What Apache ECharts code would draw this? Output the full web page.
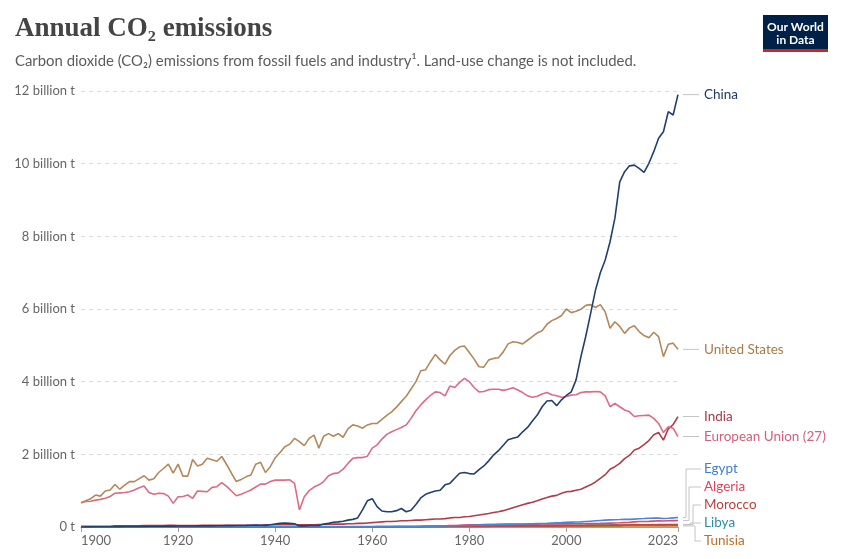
<!DOCTYPE html>
<html><head><meta charset="utf-8">
<script src="https://cdn.jsdelivr.net/npm/echarts@6/dist/echarts.min.js"></script>
<style>html,body{margin:0;padding:0;background:#fff}#c{width:845px;height:559px}</style>
</head><body><div id="c"></div>
<script>
const startYear = 1900;
const xTickYears = [1900, 1920, 1940, 1960, 1980, 2000, 2023];

// billion tonnes CO2, 1900..2023
const china = [
0.002,0.003,0.004,0.005,0.006,0.007,0.008,0.009,0.010,0.012,
0.013,0.015,0.016,0.018,0.020,0.021,0.022,0.024,0.023,0.025,
0.026,0.027,0.028,0.029,0.030,0.031,0.030,0.032,0.033,0.035,
0.037,0.038,0.040,0.042,0.045,0.050,0.055,0.050,0.045,0.060,
0.080,0.100,0.110,0.100,0.090,0.030,0.030,0.040,0.040,0.040,
0.080,0.100,0.130,0.140,0.160,0.190,0.210,0.250,0.470,0.720,
0.780,0.560,0.440,0.420,0.420,0.450,0.510,0.420,0.460,0.620,
0.800,0.900,0.950,0.990,1.010,1.160,1.200,1.340,1.480,1.500,
1.470,1.460,1.580,1.680,1.820,1.980,2.100,2.250,2.400,2.440,
2.480,2.620,2.740,2.920,3.080,3.310,3.470,3.480,3.340,3.500,
3.620,3.720,4.050,4.690,5.250,5.880,6.520,7.000,7.350,7.850,
8.500,9.500,9.780,9.940,9.960,9.870,9.760,10.010,10.330,10.700,
10.880,11.430,11.340,11.900];
const unitedStates = [
0.67,0.72,0.78,0.88,0.85,0.99,1.02,1.17,1.04,1.15,
1.25,1.25,1.33,1.41,1.29,1.33,1.50,1.61,1.73,1.48,
1.73,1.40,1.40,1.86,1.68,1.73,1.89,1.85,1.81,1.94,
1.72,1.48,1.25,1.31,1.38,1.43,1.73,1.78,1.50,1.66,
1.90,2.05,2.21,2.28,2.44,2.35,2.24,2.44,2.53,2.17,
2.50,2.57,2.50,2.57,2.47,2.70,2.81,2.78,2.72,2.81,
2.85,2.85,2.96,3.07,3.17,3.30,3.45,3.60,3.80,4.00,
4.30,4.33,4.55,4.75,4.60,4.48,4.72,4.86,4.96,4.98,
4.80,4.62,4.41,4.40,4.60,4.64,4.66,4.82,5.04,5.10,
5.08,5.04,5.14,5.24,5.34,5.40,5.58,5.68,5.74,5.82,
6.00,5.90,5.94,5.99,6.10,6.12,6.04,6.12,5.92,5.47,
5.65,5.52,5.33,5.48,5.54,5.38,5.27,5.21,5.36,5.24,
4.69,5.03,5.06,4.89];
const europeanUnion = [
0.67,0.70,0.71,0.74,0.76,0.79,0.84,0.93,0.94,0.95,
0.97,1.02,1.08,1.13,0.95,0.90,0.93,0.92,0.85,0.65,
0.83,0.84,0.88,0.79,0.99,0.98,0.97,1.09,1.11,1.22,
1.12,0.99,0.86,0.90,0.96,1.02,1.10,1.18,1.18,1.25,
1.29,1.29,1.29,1.30,1.20,0.47,0.83,1.00,1.10,1.16,
1.25,1.41,1.47,1.49,1.59,1.75,1.89,1.91,1.91,1.95,
2.17,2.26,2.42,2.55,2.62,2.68,2.74,2.81,2.99,3.20,
3.36,3.50,3.62,3.72,3.70,3.61,3.88,3.84,3.98,4.09,
4.00,3.84,3.72,3.73,3.78,3.79,3.79,3.76,3.79,3.83,
3.77,3.70,3.61,3.57,3.60,3.66,3.70,3.64,3.61,3.57,
3.59,3.63,3.64,3.70,3.72,3.72,3.73,3.72,3.61,3.31,
3.40,3.31,3.22,3.17,3.04,3.06,3.07,3.08,2.99,2.85,
2.60,2.76,2.72,2.49];
const india = [
0.02,0.02,0.02,0.02,0.02,0.02,0.02,0.03,0.03,0.03,
0.03,0.03,0.03,0.04,0.04,0.04,0.04,0.04,0.05,0.05,
0.04,0.04,0.04,0.04,0.04,0.05,0.05,0.05,0.05,0.05,
0.05,0.05,0.05,0.05,0.05,0.05,0.05,0.05,0.06,0.06,
0.06,0.06,0.06,0.06,0.06,0.06,0.06,0.06,0.06,0.07,
0.07,0.07,0.08,0.08,0.08,0.09,0.09,0.10,0.10,0.11,
0.12,0.13,0.14,0.15,0.15,0.16,0.17,0.17,0.18,0.19,
0.19,0.20,0.21,0.22,0.22,0.23,0.25,0.26,0.26,0.28,
0.29,0.31,0.33,0.35,0.37,0.40,0.42,0.45,0.49,0.53,
0.57,0.61,0.65,0.68,0.72,0.77,0.81,0.85,0.87,0.93,
0.97,0.98,1.01,1.04,1.10,1.16,1.24,1.34,1.44,1.59,
1.66,1.75,1.88,1.97,2.12,2.17,2.27,2.38,2.54,2.60,
2.39,2.70,2.82,3.04];
const egypt = [
0.001,0.001,0.001,0.001,0.001,0.001,0.001,0.002,0.002,0.002,
0.002,0.002,0.002,0.002,0.002,0.002,0.002,0.002,0.002,0.002,
0.002,0.002,0.003,0.003,0.003,0.003,0.003,0.003,0.003,0.003,
0.003,0.003,0.003,0.003,0.003,0.003,0.003,0.003,0.004,0.004,
0.004,0.004,0.004,0.005,0.005,0.005,0.006,0.006,0.007,0.007,
0.008,0.008,0.009,0.009,0.010,0.011,0.011,0.012,0.013,0.014,
0.015,0.016,0.017,0.018,0.019,0.021,0.022,0.021,0.020,0.021,
0.022,0.023,0.023,0.024,0.026,0.029,0.033,0.036,0.040,0.043,
0.046,0.050,0.055,0.060,0.065,0.070,0.073,0.075,0.078,0.080,
0.081,0.083,0.085,0.088,0.092,0.096,0.101,0.108,0.114,0.120,
0.130,0.133,0.136,0.140,0.150,0.160,0.170,0.180,0.190,0.195,
0.200,0.205,0.215,0.210,0.218,0.225,0.232,0.240,0.244,0.245,
0.232,0.240,0.250,0.260];
const algeria = [
0.000,0.000,0.000,0.000,0.000,0.000,0.000,0.000,0.000,0.000,
0.000,0.000,0.000,0.000,0.000,0.000,0.000,0.000,0.000,0.000,
0.001,0.001,0.001,0.001,0.001,0.001,0.001,0.001,0.001,0.001,
0.001,0.001,0.001,0.001,0.001,0.001,0.001,0.001,0.001,0.001,
0.001,0.001,0.001,0.001,0.001,0.001,0.002,0.002,0.002,0.002,
0.002,0.002,0.002,0.002,0.002,0.003,0.003,0.003,0.003,0.003,
0.004,0.005,0.006,0.007,0.008,0.009,0.010,0.011,0.013,0.015,
0.017,0.020,0.023,0.026,0.030,0.033,0.037,0.040,0.045,0.052,
0.058,0.060,0.062,0.064,0.066,0.068,0.070,0.072,0.073,0.074,
0.076,0.077,0.078,0.079,0.080,0.081,0.082,0.083,0.084,0.085,
0.086,0.086,0.088,0.090,0.092,0.095,0.098,0.100,0.104,0.108,
0.112,0.117,0.124,0.130,0.140,0.150,0.152,0.155,0.163,0.170,
0.165,0.172,0.176,0.180];
const morocco = [
0.000,0.000,0.000,0.000,0.000,0.000,0.000,0.000,0.000,0.000,
0.000,0.000,0.000,0.000,0.000,0.000,0.000,0.000,0.000,0.000,
0.000,0.000,0.000,0.000,0.000,0.000,0.000,0.001,0.001,0.001,
0.001,0.001,0.001,0.001,0.001,0.001,0.001,0.001,0.001,0.001,
0.001,0.001,0.001,0.001,0.001,0.001,0.002,0.002,0.002,0.002,
0.002,0.002,0.002,0.002,0.002,0.003,0.003,0.003,0.003,0.003,
0.003,0.003,0.003,0.004,0.004,0.004,0.005,0.005,0.006,0.006,
0.007,0.007,0.008,0.009,0.010,0.011,0.012,0.013,0.014,0.015,
0.016,0.017,0.017,0.017,0.018,0.019,0.020,0.021,0.022,0.022,
0.023,0.024,0.026,0.027,0.028,0.028,0.029,0.031,0.032,0.033,
0.034,0.036,0.038,0.039,0.042,0.044,0.046,0.048,0.050,0.050,
0.052,0.055,0.057,0.056,0.059,0.060,0.061,0.063,0.064,0.068,
0.065,0.069,0.068,0.070];
const libya = [
0.000,0.000,0.000,0.000,0.000,0.000,0.000,0.000,0.000,0.000,
0.000,0.000,0.000,0.000,0.000,0.000,0.000,0.000,0.000,0.000,
0.000,0.000,0.000,0.000,0.000,0.000,0.000,0.000,0.000,0.000,
0.000,0.000,0.000,0.000,0.000,0.000,0.000,0.000,0.000,0.000,
0.000,0.000,0.000,0.000,0.000,0.000,0.000,0.000,0.000,0.000,
0.000,0.000,0.000,0.000,0.000,0.000,0.001,0.001,0.001,0.001,
0.001,0.002,0.002,0.003,0.003,0.004,0.005,0.006,0.007,0.008,
0.010,0.010,0.012,0.014,0.015,0.017,0.019,0.021,0.023,0.025,
0.027,0.028,0.030,0.031,0.032,0.033,0.034,0.036,0.037,0.038,
0.039,0.040,0.040,0.041,0.042,0.043,0.044,0.044,0.045,0.046,
0.047,0.048,0.049,0.050,0.051,0.053,0.054,0.055,0.057,0.058,
0.060,0.045,0.055,0.057,0.056,0.055,0.054,0.055,0.056,0.058,
0.052,0.058,0.058,0.059];
const tunisia = [
0.000,0.000,0.000,0.000,0.000,0.000,0.000,0.000,0.000,0.000,
0.000,0.000,0.000,0.000,0.000,0.000,0.000,0.000,0.000,0.000,
0.000,0.000,0.000,0.000,0.000,0.000,0.000,0.000,0.000,0.000,
0.000,0.000,0.000,0.001,0.001,0.001,0.001,0.001,0.001,0.001,
0.001,0.001,0.001,0.001,0.001,0.001,0.001,0.001,0.001,0.001,
0.001,0.001,0.001,0.001,0.001,0.001,0.001,0.001,0.001,0.001,
0.002,0.002,0.002,0.002,0.002,0.003,0.003,0.003,0.003,0.004,
0.004,0.004,0.005,0.005,0.006,0.006,0.007,0.008,0.009,0.009,
0.010,0.010,0.011,0.011,0.012,0.012,0.012,0.012,0.013,0.013,
0.013,0.014,0.014,0.015,0.015,0.016,0.016,0.017,0.018,0.018,
0.019,0.020,0.020,0.021,0.021,0.022,0.022,0.023,0.024,0.024,
0.025,0.024,0.026,0.027,0.027,0.027,0.028,0.029,0.029,0.030,
0.028,0.029,0.030,0.030];

const years = china.map((_, i) => startYear + i);

const seriesDefs = [
  { name: 'Tunisia', data: tunisia, color: '#c0782f', label: '#b8702a' },
  { name: 'Libya', data: libya, color: '#2a94a8', label: '#2a8fa3' },
  { name: 'Morocco', data: morocco, color: '#c4463d', label: '#b9423a' },
  { name: 'Algeria', data: algeria, color: '#e4485e', label: '#e0435a' },
  { name: 'Egypt', data: egypt, color: '#4a86d8', label: '#3f7fd3' },
  { name: 'India', data: india, color: '#b03d4b', label: '#a83a47' },
  { name: 'European Union (27)', data: europeanUnion, color: '#dc6c83', label: '#d4607a' },
  { name: 'United States', data: unitedStates, color: '#b3885a', label: '#a97b47' },
  { name: 'China', data: china, color: '#22406f', label: '#1f3a66' }
];

const chart = echarts.init(document.getElementById('c'));
chart.setOption({
  animation: false,
  grid: { left: 81, right: 167, top: 91, bottom: 32, containLabel: false },
  xAxis: {
    type: 'value', min: 1900, max: 2023,
    axisLine: { show: true, lineStyle: { color: '#a0a0a0', width: 1 } },
    axisTick: { show: true, customValues: xTickYears, length: 5, lineStyle: { color: '#a0a0a0' } },
    axisLabel: {
      customValues: xTickYears, color: '#666', fontSize: 13, fontFamily: 'Lato', margin: 7,
      alignMinLabel: 'left', alignMaxLabel: 'right',
      formatter: v => String(v)
    },
    splitLine: { show: false }
  },
  yAxis: {
    type: 'value', min: 0, max: 12, interval: 2,
    axisLine: { show: false }, axisTick: { show: false },
    axisLabel: {
      color: '#666', fontSize: 13, fontFamily: 'Lato', margin: 6,
      formatter: v => v === 0 ? '0 t' : v + ' billion t'
    },
    splitLine: { lineStyle: { color: '#dcdcdc', type: [4, 4], width: 1 } }
  },
  series: seriesDefs.map(s => ({
    type: 'line', name: s.name, showSymbol: false, symbol: 'none',
    data: years.map((y, i) => [y, s.data[i]]),
    lineStyle: { color: s.color, width: 1.6 },
    itemStyle: { color: s.color },
    emphasis: { disabled: true }
  }))
});

const lastYear = years[years.length - 1];
function endY(arr) { return chart.convertToPixel({ gridIndex: 0 }, [lastYear, arr[arr.length - 1]])[1]; }

const g = [];
const lineCol = '#c4c4c4';
g.push({ type: 'text', x: 15, y: 29, style: { text: 'Annual CO\u2082 emissions', fill: '#444', fontSize: 27, fontFamily: 'Liberation Serif', fontWeight: 'bold', verticalAlign: 'middle' } });
g.push({ type: 'text', x: 15, y: 61, style: { text: 'Carbon dioxide (CO\u2082) emissions from fossil fuels and industry\u00b9. Land-use change is not included.', fill: '#5b5b5b', fontSize: 14.9, fontFamily: 'Lato', verticalAlign: 'middle' } });
// logo
g.push({ type: 'rect', shape: { x: 763, y: 15, width: 65, height: 37 }, style: { fill: '#002147' } });
g.push({ type: 'rect', shape: { x: 763, y: 49, width: 65, height: 3 }, style: { fill: '#ce261e' } });
g.push({ type: 'text', x: 795.5, y: 27, style: { text: 'Our World', fill: '#fff', fontSize: 12, fontFamily: 'Liberation Sans Narrow, Lato', fontWeight: 'bold', align: 'center', verticalAlign: 'middle' } });
g.push({ type: 'text', x: 795.5, y: 40, style: { text: 'in Data', fill: '#fff', fontSize: 12, fontFamily: 'Liberation Sans Narrow, Lato', fontWeight: 'bold', align: 'center', verticalAlign: 'middle' } });

const byName = {}; seriesDefs.forEach(s => byName[s.name] = s);
['China', 'United States', 'India', 'European Union (27)'].forEach(n => {
  const s = byName[n]; const y = endY(s.data);
  g.push({ type: 'polyline', shape: { points: [[683, y], [699, y]] }, style: { stroke: lineCol, lineWidth: 1, fill: null } });
  g.push({ type: 'text', x: 704, y: y, style: { text: n, fill: s.label, fontSize: 13.5, fontFamily: 'Lato', verticalAlign: 'middle' } });
});
const smallNames = ['Egypt', 'Algeria', 'Morocco', 'Libya', 'Tunisia'];
const smallLabelY = [469, 487, 505, 523, 541];
const smallVX = [686, 689, 693, 690, 695];
smallNames.forEach((n, i) => {
  const s = byName[n]; const ya = endY(s.data); const ly = smallLabelY[i]; const vx = smallVX[i];
  g.push({ type: 'polyline', shape: { points: [[683, ya], [vx, ya], [vx, ly], [701, ly]] }, style: { stroke: lineCol, lineWidth: 1, fill: null } });
  g.push({ type: 'text', x: 704, y: ly, style: { text: n, fill: s.label, fontSize: 13.5, fontFamily: 'Lato', verticalAlign: 'middle' } });
});
chart.setOption({ graphic: g });
</script>
</body></html>
